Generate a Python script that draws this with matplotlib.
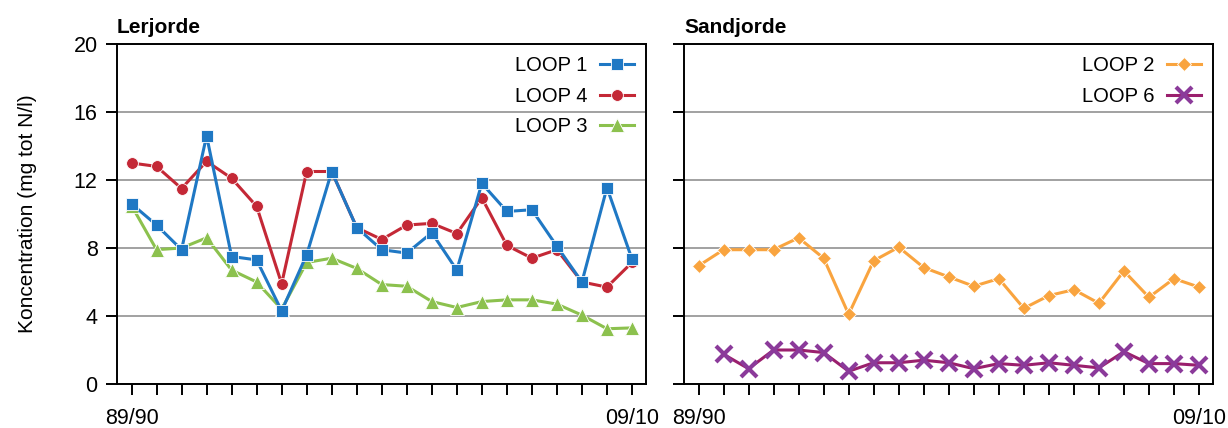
import matplotlib
matplotlib.use("Agg")
import matplotlib.pyplot as plt
import numpy as np

plt.rcParams['font.family'] = ['Liberation Sans', 'DejaVu Sans']

# seasons 89/90 .. 09/10
seasons = [f"{(89 + i) % 100:02d}/{(90 + i) % 100:02d}" for i in range(21)]

# Lerjorde (clay soil)
loop1 = [10.6, 9.35, 7.9, 14.6, 7.5, 7.3, 4.3, 7.6, 12.5, 9.2, 7.9,
         7.7, 8.9, 6.7, 11.8, 10.15, 10.25, 8.1, 6.0, 11.55, 7.35]
loop4 = [13.0, 12.8, 11.5, 13.1, 12.1, 10.45, 5.9, 12.5, 12.5, 9.2, 8.5,
         9.35, 9.45, 8.85, 10.95, 8.15, 7.4, 7.9, 6.0, 5.7, 7.15]
loop3 = [10.5, 7.9, 8.0, 8.6, 6.7, 6.0, 4.4, 7.15, 7.4, 6.8, 5.85,
         5.75, 4.85, 4.5, 4.85, 4.95, 4.95, 4.7, 4.05, 3.25, 3.3]

# Sandjorde (sandy soil)
loop2 = [6.95, 7.9, 7.9, 7.9, 8.6, 7.4, 4.1, 7.25, 8.05, 6.85, 6.3,
         5.75, 6.2, 4.45, 5.2, 5.55, 4.75, 6.65, 5.1, 6.2, 5.7]
loop6 = [np.nan, 1.75, 0.9, 2.0, 2.0, 1.85, 0.75, 1.25, 1.25, 1.4, 1.25,
         0.9, 1.2, 1.1, 1.25, 1.1, 0.95, 1.9, 1.2, 1.2, 1.1]

BLUE = '#1f78c4'
RED = '#c42836'
GREEN = '#8cc14e'
ORANGE = '#f9a43f'
PURPLE = '#8b3a9a'
PURPLE_LINE = '#9a1f6d'

x = np.arange(len(seasons))

fig = plt.figure(figsize=(12.28, 4.28), dpi=100)
ax1 = fig.add_axes([117 / 1228, 1 - 384 / 428, 529 / 1228, 340 / 428])
ax2 = fig.add_axes([684 / 1228, 1 - 384 / 428, 529 / 1228, 340 / 428])

mk = dict(markeredgecolor='white', markeredgewidth=0.6, linewidth=2.2)
ax1.plot(x, loop3, color=GREEN, marker='^', markersize=9.5, label='LOOP 3', zorder=3, **mk)
ax1.plot(x, loop4, color=RED, marker='o', markersize=8.5, label='LOOP 4', zorder=4, **mk)
ax1.plot(x, loop1, color=BLUE, marker='s', markersize=8.5, label='LOOP 1', zorder=5, **mk)

ax2.plot(x, loop2, color=ORANGE, marker='D', markersize=7, label='LOOP 2', **mk)
ax2.plot(x, loop6, color=PURPLE_LINE, linewidth=2.2, marker='x', markersize=11,
         markeredgewidth=3, markeredgecolor=PURPLE, label='LOOP 6')

for ax, title in ((ax1, 'Lerjorde'), (ax2, 'Sandjorde')):
    ax.set_xlim(-0.58, 20.56)
    ax.set_ylim(0, 20)
    ax.set_yticks([0, 4, 8, 12, 16, 20])
    ax.grid(axis='y', color='#9a9a9a', linewidth=1.3)
    ax.set_axisbelow(True)
    ax.set_xticks(x)
    labels = [''] * len(seasons)
    labels[0] = seasons[0]
    labels[-1] = seasons[-1]
    ax.set_xticklabels(labels, fontsize=15.5)
    ax.tick_params(axis='x', length=8, width=1.4, pad=9, direction='out')
    ax.tick_params(axis='y', length=8, width=1.4, labelsize=15.5, pad=6)
    for s in ax.spines.values():
        s.set_linewidth(1.4)
        s.set_color('black')
    ax.set_title(title, loc='left', fontsize=15, fontweight='bold', pad=8)

ax2.tick_params(axis='y', labelleft=False)
ax1.set_ylabel('Koncentration (mg tot N/l)', fontsize=15, labelpad=26)

leg_kw = dict(loc='upper right', frameon=False, markerfirst=False, fontsize=14.5,
              handlelength=1.7, handletextpad=0.6, labelspacing=0.58,
              borderaxespad=0.2)
h, l = ax1.get_legend_handles_labels()
order = [2, 1, 0]
ax1.legend([h[i] for i in order], [l[i] for i in order], **leg_kw)
ax2.legend(**leg_kw)

fig.savefig('out.png', dpi=100)
